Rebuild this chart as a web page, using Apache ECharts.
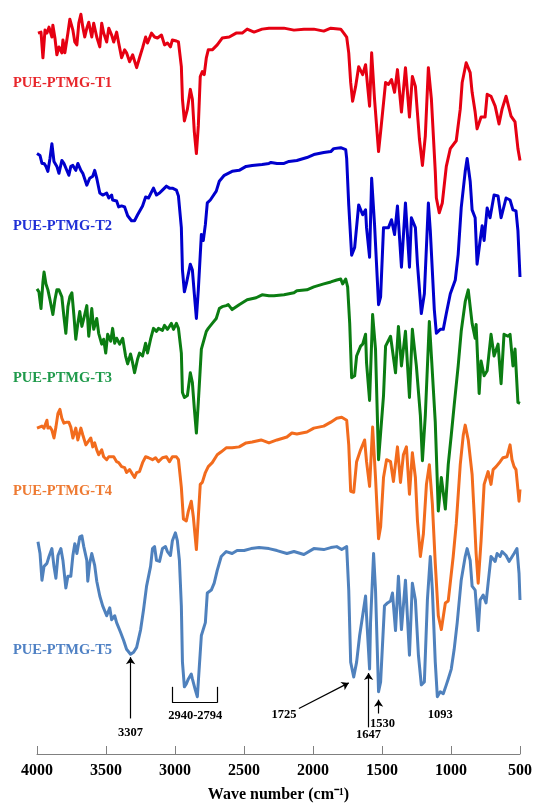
<!DOCTYPE html>
<html>
<head>
<meta charset="utf-8">
<script src="https://cdn.jsdelivr.net/npm/echarts@6/dist/echarts.min.js"></script>
<style>
  html, body { margin: 0; padding: 0; width: 100%; height: 100%; overflow: hidden; background: #ffffff; }
  #chart { width: 100%; height: 100%; }
</style>
</head>
<body>
<div id="chart"></div>
<script>
// FTIR spectra, [wavenumber (cm-1), stacked transmittance (offset, a.u.)]
const specT1 = [[3993,730],[3971,731],[3957,705],[3942,733],[3928,730],[3913,736],[3892,726],[3885,738],[3870,725],[3856,708],[3841,716],[3820,710],[3812,723],[3798,710],[3776,730],[3762,744],[3740,733],[3726,721],[3711,718],[3697,740],[3682,749],[3668,736],[3654,726],[3639,735],[3625,741],[3603,726],[3589,740],[3567,726],[3545,716],[3531,740],[3517,730],[3495,721],[3480,735],[3459,728],[3444,721],[3423,731],[3408,720],[3387,705],[3365,713],[3351,710],[3329,701],[3307,708],[3278,695],[3257,705],[3235,715],[3213,726],[3199,720],[3170,730],[3148,726],[3127,725],[3098,728],[3076,718],[3055,720],[3033,716],[3019,723],[2990,722],[2975,721],[2954,696],[2946,663],[2932,641],[2910,653],[2889,673],[2874,663],[2860,630],[2845,608],[2831,636],[2817,686],[2802,691],[2788,688],[2773,705],[2759,713],[2730,713],[2694,718],[2658,725],[2607,726],[2557,730],[2513,730],[2477,734],[2427,731],[2369,734],[2319,735],[2211,735],[2138,733],[2066,734],[1994,734],[1922,732],[1871,735],[1799,734],[1777,730],[1756,726],[1741,710],[1727,680],[1713,661],[1691,676],[1669,696],[1655,695],[1640,688],[1619,698],[1604,676],[1590,656],[1575,710],[1554,663],[1525,610],[1510,630],[1474,680],[1453,678],[1431,683],[1409,670],[1388,693],[1359,650],[1330,695],[1301,645],[1280,686],[1258,676],[1229,623],[1207,596],[1186,626],[1164,695],[1142,663],[1114,590],[1106,563],[1085,548],[1063,558],[1034,595],[1005,613],[962,621],[933,653],[919,680],[890,700],[861,690],[847,670],[825,650],[811,633],[782,645],[753,645],[738,668],[710,666],[680,656],[652,638],[630,653],[601,666],[565,646],[536,640],[515,613],[500,601]];

const specT2 = [[4000,608],[3978,606],[3964,598],[3949,598],[3935,595],[3921,590],[3906,603],[3892,618],[3877,600],[3856,595],[3841,588],[3820,601],[3805,598],[3791,600],[3769,586],[3755,595],[3740,596],[3719,591],[3704,598],[3682,591],[3668,588],[3639,576],[3618,583],[3596,585],[3582,591],[3567,583],[3545,568],[3524,566],[3495,568],[3480,563],[3459,566],[3452,561],[3423,560],[3408,554],[3387,555],[3365,554],[3343,545],[3315,540],[3293,540],[3271,546],[3235,555],[3213,564],[3192,563],[3156,573],[3134,566],[3112,568],[3091,571],[3062,575],[3040,573],[3019,573],[2990,571],[2975,565],[2954,533],[2946,490],[2932,468],[2918,476],[2889,496],[2874,490],[2860,466],[2845,441],[2831,470],[2809,526],[2795,520],[2780,536],[2766,558],[2744,561],[2730,561],[2701,570],[2679,580],[2643,586],[2586,590],[2535,591],[2485,595],[2441,596],[2369,597],[2319,598],[2304,599],[2261,598],[2210,598],[2174,600],[2117,601],[2044,604],[1994,607],[1922,609],[1871,610],[1850,613],[1799,614],[1763,612],[1756,603],[1741,556],[1720,505],[1698,513],[1669,556],[1655,558],[1640,546],[1619,551],[1612,533],[1590,503],[1575,583],[1554,536],[1525,455],[1510,463],[1489,533],[1453,533],[1431,541],[1409,526],[1388,555],[1359,493],[1330,558],[1301,493],[1287,543],[1258,533],[1243,496],[1215,446],[1193,466],[1164,558],[1150,530],[1121,450],[1106,426],[1078,430],[1056,430],[1034,446],[1005,466],[969,480],[948,506],[926,553],[897,590],[883,603],[861,580],[847,551],[825,543],[811,496],[789,520],[774,535],[760,520],[738,553],[717,543],[688,566],[659,565],[637,543],[601,563],[572,561],[551,551],[529,550],[515,530],[500,483]];

const specT3 = [[4000,471],[3986,468],[3971,451],[3957,478],[3949,488],[3935,476],[3921,470],[3906,460],[3885,445],[3870,460],[3856,470],[3841,470],[3820,463],[3805,443],[3791,426],[3776,453],[3762,463],[3747,467],[3733,445],[3719,420],[3704,436],[3690,448],[3675,433],[3654,445],[3639,454],[3625,423],[3603,451],[3589,430],[3567,441],[3553,426],[3531,415],[3517,420],[3502,406],[3488,425],[3466,418],[3452,431],[3437,416],[3423,421],[3401,415],[3379,421],[3358,403],[3343,395],[3322,405],[3307,396],[3293,386],[3271,400],[3257,406],[3235,403],[3213,416],[3199,406],[3177,420],[3156,431],[3134,428],[3120,431],[3091,429],[3076,434],[3055,430],[3040,433],[3026,436],[3011,430],[2990,436],[2975,431],[2954,406],[2946,366],[2932,361],[2910,363],[2889,386],[2874,376],[2860,350],[2845,325],[2831,356],[2809,410],[2795,408],[2773,428],[2759,431],[2730,436],[2701,441],[2679,451],[2658,453],[2629,454],[2614,455],[2586,450],[2535,455],[2477,460],[2412,462],[2369,465],[2319,464],[2283,464],[2210,465],[2138,467],[2117,469],[2044,470],[1994,473],[1922,476],[1871,478],[1828,480],[1799,481],[1785,476],[1763,481],[1749,473],[1734,436],[1720,381],[1698,383],[1684,403],[1655,413],[1640,415],[1619,425],[1612,396],[1590,358],[1568,445],[1547,410],[1525,298],[1489,363],[1474,413],[1438,423],[1424,421],[1402,386],[1381,433],[1359,393],[1330,428],[1301,361],[1280,430],[1251,393],[1222,343],[1207,297],[1186,343],[1157,438],[1142,403],[1114,336],[1092,246],[1070,280],[1041,248],[1020,293],[998,323],[977,353],[948,393],[926,428],[897,458],[875,470],[847,436],[825,421],[818,435],[796,365],[782,398],[760,383],[738,388],[710,425],[688,403],[659,415],[637,375],[616,425],[587,423],[572,425],[551,393],[536,410],[515,356],[500,355]];

const specT4 = [[4000,330],[3986,331],[3964,332],[3949,330],[3928,338],[3921,330],[3906,331],[3892,328],[3877,320],[3863,331],[3848,345],[3834,349],[3820,340],[3805,335],[3784,336],[3769,336],[3755,331],[3740,320],[3719,330],[3704,318],[3682,330],[3668,323],[3646,313],[3632,315],[3610,320],[3596,311],[3582,315],[3567,308],[3553,303],[3531,308],[3517,301],[3495,298],[3480,301],[3459,301],[3444,301],[3423,296],[3408,295],[3387,291],[3365,290],[3351,285],[3329,288],[3307,283],[3293,280],[3278,285],[3257,286],[3235,295],[3213,301],[3192,300],[3163,298],[3141,300],[3120,296],[3091,300],[3062,301],[3040,296],[3019,301],[2990,301],[2975,298],[2954,270],[2939,238],[2918,236],[2903,246],[2882,256],[2867,240],[2845,207],[2817,273],[2802,275],[2780,285],[2759,291],[2730,295],[2694,303],[2665,306],[2629,310],[2586,310],[2535,311],[2485,315],[2441,316],[2376,318],[2319,315],[2261,318],[2189,321],[2153,325],[2117,324],[2044,326],[1994,330],[1922,332],[1871,336],[1828,340],[1792,341],[1756,338],[1741,313],[1727,266],[1705,265],[1684,296],[1655,308],[1626,318],[1612,296],[1590,271],[1568,331],[1547,280],[1525,218],[1510,230],[1489,280],[1467,298],[1438,296],[1417,276],[1388,311],[1366,275],[1345,303],[1323,311],[1301,263],[1280,305],[1258,280],[1243,236],[1222,200],[1200,223],[1178,273],[1157,293],[1135,253],[1114,193],[1092,140],[1070,126],[1041,153],[1020,155],[984,200],[962,233],[933,293],[911,323],[897,333],[875,318],[847,283],[832,243],[818,203],[803,173],[782,216],[760,273],[731,286],[710,273],[695,288],[673,291],[644,296],[623,300],[594,301],[572,313],[558,298],[543,291],[529,288],[515,268],[507,256],[500,268]];

const specT5 = [[3993,215],[3978,203],[3964,176],[3949,190],[3928,193],[3913,200],[3892,208],[3877,190],[3863,178],[3848,201],[3827,208],[3812,196],[3791,168],[3776,180],[3755,180],[3740,201],[3726,213],[3711,203],[3690,220],[3675,221],[3661,210],[3639,196],[3632,175],[3618,193],[3603,203],[3582,191],[3567,175],[3545,160],[3524,150],[3495,140],[3473,148],[3459,136],[3437,140],[3423,133],[3394,123],[3372,115],[3351,106],[3322,101],[3300,103],[3278,108],[3249,126],[3228,146],[3206,170],[3177,190],[3163,208],[3148,210],[3134,196],[3112,195],[3091,208],[3069,210],[3055,205],[3033,201],[3019,216],[2997,224],[2983,216],[2968,196],[2954,150],[2946,93],[2932,68],[2918,71],[2903,76],[2882,81],[2874,76],[2853,65],[2838,58],[2831,73],[2809,120],[2795,120],[2780,133],[2766,163],[2737,166],[2716,173],[2694,186],[2665,200],[2629,205],[2586,203],[2550,206],[2499,206],[2449,208],[2391,209],[2319,208],[2261,206],[2189,203],[2138,205],[2066,202],[1994,208],[1922,207],[1871,209],[1828,210],[1792,207],[1756,210],[1741,166],[1727,93],[1705,78],[1684,93],[1662,120],[1648,133],[1619,160],[1612,140],[1590,86],[1583,133],[1561,203],[1547,166],[1525,63],[1510,73],[1482,150],[1460,153],[1438,155],[1424,163],[1402,125],[1381,180],[1359,126],[1330,176],[1301,100],[1280,173],[1258,156],[1236,100],[1215,70],[1193,73],[1171,156],[1150,200],[1135,166],[1114,93],[1099,58],[1078,63],[1056,61],[1034,70],[1020,76],[998,86],[977,106],[955,133],[926,176],[897,200],[883,208],[861,196],[847,170],[825,166],[803,125],[789,156],[767,161],[746,153],[731,173],[710,200],[680,195],[666,203],[644,200],[630,205],[601,201],[579,195],[565,193],[543,203],[522,208],[507,183],[500,156]];

const sampleNames = ['PUE-PTMG-T1', 'PUE-PTMG-T2', 'PUE-PTMG-T3', 'PUE-PTMG-T4', 'PUE-PTMG-T5'];
const spectra = [specT1, specT2, specT3, specT4, specT5];

// Axis range (cm-1)
const xMin = 500, xMax = 4000, xStep = 500;
const yTop = 763.5;

// Where each sample name sits, in axis units
const nameSpots = [[3815, 679], [3815, 534], [3815, 380], [3815, 266], [3815, 105]];

// Peak assignments on the bottom trace
const peakTexts = [
  { text: '3307', at: [3322, 22] },
  { text: '2940-2794', at: [2853, 39] },
  { text: '1725', at: [2210, 40] },
  { text: '1647', at: [1597, 19] },
  { text: '1530', at: [1496, 31] },
  { text: '1093', at: [1078, 40] }
];
const peakArrows = [
  [[3322, 36], [3322, 98]],
  [[2102, 46], [1741, 72]],
  [[1597, 27], [1597, 82]],
  [[1525, 41], [1525, 55]]
];
const bracketPath = [[3021, 68], [3021, 52], [2692, 52], [2692, 68]];

const lineColors = ['#e60012', '#0000cd', '#0b7d12', '#f26b1d', '#4f81bd'];
const textColors = ['#e8262b', '#1f2fd6', '#1f9a4b', '#ee7a32', '#4f81c4'];
const serif = '"Liberation Serif", "Times New Roman", serif';

const chart = echarts.init(document.getElementById('chart'), null, { renderer: 'canvas' });

const arrowLines = peakArrows.map(function (seg) {
  return [{ coord: seg[0], symbol: 'none' }, { coord: seg[1], symbol: 'arrow' }];
});
const bracketLines = [];
for (let i = 0; i < bracketPath.length - 1; i++) {
  bracketLines.push([{ coord: bracketPath[i], symbol: 'none' }, { coord: bracketPath[i + 1], symbol: 'none' }]);
}

const series = spectra.map(function (data, i) {
  const s = {
    name: sampleNames[i],
    type: 'line',
    data: data,
    showSymbol: false,
    symbol: 'none',
    clip: false,
    lineStyle: { color: lineColors[i], width: 3, join: 'round' },
    itemStyle: { color: lineColors[i] },
    silent: true,
    z: 2 + i
  };
  if (i === 4) {
    s.markLine = {
      silent: true,
      animation: false,
      symbol: ['none', 'arrow'],
      symbolSize: 7,
      label: { show: false },
      lineStyle: { color: '#000', width: 1.2, type: 'solid' },
      emphasis: { disabled: true },
      data: arrowLines.concat(bracketLines)
    };
  }
  return s;
});

const plainLabel = {
  show: true,
  position: 'inside',
  formatter: '{b}',
  fontFamily: serif,
  fontWeight: 'bold',
  textBorderWidth: 0,
  textBorderColor: 'transparent',
  textShadowBlur: 0,
  opacity: 1
};

series.push({
  name: 'sample-names',
  type: 'scatter',
  symbolSize: 0,
  silent: true,
  z: 10,
  data: nameSpots.map(function (p, i) {
    return {
      value: p,
      name: sampleNames[i],
      label: { color: textColors[i] }
    };
  }),
  label: Object.assign({}, plainLabel, { fontSize: 14.5 })
});

series.push({
  name: 'peak-texts',
  type: 'scatter',
  symbolSize: 0,
  silent: true,
  z: 10,
  data: peakTexts.map(function (p) { return { value: p.at, name: p.text }; }),
  label: Object.assign({}, plainLabel, { fontSize: 12.5, color: '#000' })
});

chart.setOption({
  animation: false,
  backgroundColor: '#ffffff',
  grid: { left: 37, right: 13, top: 0, bottom: 44.5, containLabel: false },
  xAxis: {
    type: 'value',
    inverse: true,
    min: xMin,
    max: xMax,
    interval: xStep,
    name: 'Wave number (cm\u207B\u00B9)',
    nameLocation: 'middle',
    nameGap: 33,
    nameTextStyle: { fontFamily: serif, fontWeight: 'bold', fontSize: 16, color: '#000' },
    axisLine: { show: true, lineStyle: { color: '#808080', width: 1 } },
    axisTick: { show: true, inside: true, length: 8, lineStyle: { color: '#808080', width: 1 } },
    splitLine: { show: false },
    axisLabel: {
      fontFamily: serif, fontWeight: 'bold', fontSize: 16, color: '#000', margin: 9,
      formatter: function (v) { return String(v); }
    }
  },
  yAxis: {
    type: 'value',
    min: 0,
    max: yTop,
    show: false,
    splitLine: { show: false }
  },
  series: series
});
window.addEventListener('resize', function () { chart.resize(); });
</script>
</body>
</html>
